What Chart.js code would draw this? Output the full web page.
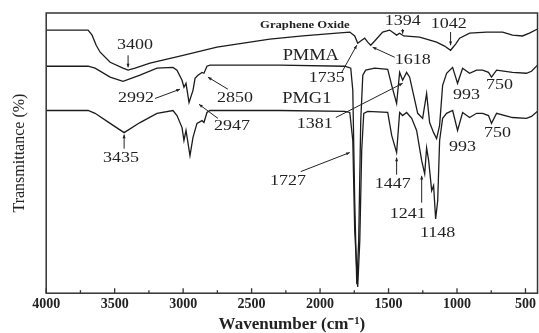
<!DOCTYPE html>
<html lang="en">
<head>
<meta charset="UTF-8">
<title>FTIR spectra</title>
<style>
    html, body { margin: 0; padding: 0; background: #fff; }
</style>
</head>
<body>
<canvas id="ftirChart" width="539" height="333"></canvas>

<script src="https://cdn.jsdelivr.net/npm/chart.js"></script>
<script>
    // x axis tick labels (wavenumber, cm-1)
    var xTicks = [4000, 3500, 3000, 2500, 2000, 1500, 1000, 500];

    // Graphene Oxide (top trace)
    var goWave = [4000, 3694, 3665, 3635, 3606, 3533, 3439, 3402, 3351, 3242, 3001, 2753, 2512, 2367, 2126, 1878, 1783, 1747, 1725, 1696, 1674, 1652, 1630, 1601, 1543, 1492, 1441, 1419, 1389, 1273, 1149, 1091, 1047, 1010, 981, 908, 784, 667, 595, 522, 471, 412];
    var goT = [93.9, 93.9, 92.1, 88.5, 86.0, 82.4, 80.3, 79.6, 80.3, 82.1, 84.9, 87.8, 89.6, 90.7, 91.8, 92.8, 93.2, 91.8, 89.2, 90.3, 91.0, 89.6, 88.5, 90.0, 93.2, 93.9, 92.1, 92.8, 91.8, 91.4, 89.6, 88.2, 86.7, 88.9, 91.0, 92.8, 93.2, 93.2, 92.1, 91.8, 92.8, 94.3];

    // PMMA (middle trace)
    var pmmaWave = [4000, 3694, 3643, 3533, 3439, 3315, 3191, 3074, 3045, 3008, 2994, 2979, 2957, 2928, 2913, 2892, 2862, 2848, 2826, 2804, 2294, 1820, 1776, 1761, 1747, 1732, 1718, 1703, 1688, 1667, 1601, 1506, 1477, 1441, 1419, 1397, 1368, 1346, 1287, 1251, 1222, 1200, 1171, 1149, 1127, 1105, 1076, 1032, 996, 959, 908, 857, 813, 770, 748, 711, 595, 493, 456, 412];
    var pmmaT = [81.0, 81.0, 80.3, 77.1, 75.6, 77.8, 80.3, 80.6, 79.6, 76.0, 73.5, 74.9, 68.1, 72.4, 76.7, 77.8, 78.8, 78.5, 81.0, 81.4, 81.4, 81.0, 80.3, 72.4, 33.0, 3.2, 18.6, 61.6, 77.8, 79.6, 80.3, 79.9, 74.2, 67.7, 78.8, 76.0, 78.8, 77.1, 64.2, 62.4, 71.3, 60.9, 57.3, 55.2, 59.9, 74.2, 78.5, 80.6, 74.9, 80.3, 78.5, 79.6, 79.6, 78.8, 77.1, 79.6, 78.8, 78.5, 79.2, 81.4];

    // PMG1 (bottom trace)
    var pmg1Wave = [4000, 3694, 3643, 3533, 3431, 3315, 3191, 3074, 3045, 3008, 2994, 2979, 2950, 2928, 2899, 2862, 2848, 2826, 2804, 2294, 1820, 1783, 1761, 1747, 1725, 1710, 1696, 1681, 1652, 1506, 1477, 1441, 1419, 1397, 1368, 1331, 1295, 1258, 1236, 1222, 1207, 1185, 1171, 1156, 1141, 1127, 1105, 1076, 1032, 996, 959, 908, 857, 813, 770, 748, 711, 595, 493, 456, 412];
    var pmg1T = [65.2, 65.2, 64.2, 60.6, 57.3, 60.9, 64.2, 65.2, 63.4, 59.1, 54.5, 58.1, 49.1, 55.6, 60.6, 61.6, 60.9, 64.5, 65.2, 65.2, 64.9, 64.5, 54.5, 22.2, 2.2, 18.6, 50.9, 64.2, 64.9, 64.5, 56.3, 50.2, 64.5, 63.4, 64.5, 62.4, 58.1, 47.3, 42.6, 51.9, 47.3, 36.6, 38.4, 26.5, 33.0, 54.5, 62.4, 64.2, 65.2, 58.1, 64.5, 62.7, 64.2, 64.2, 63.4, 60.6, 64.2, 62.7, 62.4, 63.1, 64.9];

    // peak labels: text, wavenumber, transmittance
    var peakLabels = [
        ['3400', 3351, 88.5], ['2992', 3344, 69.5], ['2850', 2622, 69.5],
        ['2947', 2644, 59.5], ['3435', 3453, 48.4], ['1735', 1951, 76.7],
        ['1618', 1324, 83.2], ['1394', 1397, 97.1], ['1042', 1061, 96.1],
        ['1381', 2038, 60.2], ['993', 930, 70.6], ['750', 689, 74.2],
        ['993', 959, 52.0], ['750', 704, 57.3], ['1727', 2235, 40.1],
        ['1447', 1470, 39.1], ['1241', 1360, 28.3], ['1148', 1142, 21.5]
    ];
    // trace names
    var traceLabels = [['PMMA', 2068, 84.9], ['PMG1', 2097, 69.5]];
    // pointer lines: from (w, T) to (w, T)
    var peakArrows = [
        [3402, 84.9, 3402, 80.6], [3205, 69.5, 3023, 72.8], [2673, 72.8, 2819, 77.1],
        [2746, 62.4, 2884, 67.4], [3431, 51.6, 3431, 56.6], [1842, 78.8, 1732, 88.5],
        [1455, 84.2, 1616, 87.8], [1397, 94.3, 1397, 92.6], [1047, 93.2, 1047, 88.5],
        [1885, 62.7, 1397, 74.9], [2141, 43.4, 1783, 50.2], [1441, 42.3, 1441, 48.4],
        [1258, 32.3, 1258, 41.9]
    ];

    function toPoints(wave, vals) {
        return wave.map(function (w, i) { return { x: w, y: vals[i] }; });
    }

    function stretchText(ctx, text, x, y, sx) {
        ctx.save();
        ctx.translate(x, y);
        ctx.scale(sx, 1);
        ctx.fillText(text, 0, 0);
        ctx.restore();
    }

    var serif = '"Liberation Serif", "Times New Roman", serif';

    var decorPlugin = {
        id: 'decor',
        afterDatasetsDraw: function (chart) {
            var ctx = chart.ctx, a = chart.chartArea;
            var xs = chart.scales.x, ys = chart.scales.y;
            ctx.save();

            // frame
            ctx.strokeStyle = '#333';
            ctx.lineWidth = 1.5;
            ctx.strokeRect(a.left, a.top, a.right - a.left, a.bottom - a.top);

            // inward ticks on the bottom axis
            ctx.lineWidth = 1.3;
            for (var v = 4000; v >= 500; v -= 250) {
                var px = xs.getPixelForValue(v);
                var len = v % 500 === 0 ? 5 : 3;
                ctx.beginPath();
                ctx.moveTo(px, a.bottom);
                ctx.lineTo(px, a.bottom - len);
                ctx.stroke();
            }

            // pointer lines
            ctx.strokeStyle = '#222';
            ctx.fillStyle = '#222';
            ctx.lineWidth = 1;
            peakArrows.forEach(function (ar) {
                var x1 = xs.getPixelForValue(ar[0]), y1 = ys.getPixelForValue(ar[1]);
                var x2 = xs.getPixelForValue(ar[2]), y2 = ys.getPixelForValue(ar[3]);
                ctx.beginPath();
                ctx.moveTo(x1, y1);
                ctx.lineTo(x2, y2);
                ctx.stroke();
                var ang = Math.atan2(y2 - y1, x2 - x1), h = 4;
                ctx.beginPath();
                ctx.moveTo(x2, y2);
                ctx.lineTo(x2 - h * Math.cos(ang - 0.4), y2 - h * Math.sin(ang - 0.4));
                ctx.lineTo(x2 - h * Math.cos(ang + 0.4), y2 - h * Math.sin(ang + 0.4));
                ctx.closePath();
                ctx.fill();
            });

            // labels
            ctx.textAlign = 'center';
            ctx.textBaseline = 'middle';
            ctx.font = '15px ' + serif;
            peakLabels.forEach(function (p) {
                stretchText(ctx, p[0], xs.getPixelForValue(p[1]), ys.getPixelForValue(p[2]), 1.2);
            });
            ctx.font = '16px ' + serif;
            traceLabels.forEach(function (p) {
                stretchText(ctx, p[0], xs.getPixelForValue(p[1]), ys.getPixelForValue(p[2]), 1.15);
            });
            ctx.font = 'bold 11px ' + serif;
            stretchText(ctx, 'Graphene Oxide', xs.getPixelForValue(2111), ys.getPixelForValue(95.7), 1.15);

            ctx.restore();
        }
    };

    function traceSet(label, wave, vals) {
        return {
            label: label,
            data: toPoints(wave, vals),
            borderColor: '#1c1c1c',
            borderWidth: 1.3,
            pointRadius: 0,
            tension: 0,
            fill: false
        };
    }

    var ctx = document.getElementById('ftirChart').getContext('2d');
    var ftirChart = new Chart(ctx, {
        type: 'line',
        data: {
            datasets: [
                traceSet('Graphene Oxide', goWave, goT),
                traceSet('PMMA', pmmaWave, pmmaT),
                traceSet('PMG1', pmg1Wave, pmg1T)
            ]
        },
        options: {
            responsive: false,
            animation: false,
            layout: { padding: { left: 6, top: 13, right: 1, bottom: 0 } },
            plugins: {
                legend: { display: false },
                tooltip: { enabled: false }
            },
            scales: {
                x: {
                    type: 'linear',
                    reverse: true,
                    min: 412,
                    max: 4000,
                    afterBuildTicks: function (scale) {
                        scale.ticks = xTicks.map(function (v) { return { value: v }; });
                    },
                    grid: { display: false, drawTicks: false },
                    border: { display: false },
                    ticks: {
                        color: '#222',
                        padding: 3,
                        maxRotation: 0,
                        font: { family: serif, size: 14, weight: 'bold' },
                        callback: function (v) { return String(v); }
                    },
                    title: {
                        display: true,
                        text: 'Wavenumber (cm\u207B\u00B9)',
                        color: '#222',
                        padding: { top: 0, bottom: 0 },
                        font: { family: serif, size: 17, weight: 'bold', lineHeight: 1.0 }
                    }
                },
                y: {
                    min: 0,
                    max: 100,
                    ticks: { display: false },
                    grid: { display: false, drawTicks: false },
                    border: { display: false },
                    title: {
                        display: true,
                        text: 'Transmittance (%)',
                        color: '#222',
                        padding: { top: 4, bottom: 17 },
                        font: { family: serif, size: 16 }
                    }
                }
            }
        },
        plugins: [decorPlugin]
    });
</script>
</body>
</html>
